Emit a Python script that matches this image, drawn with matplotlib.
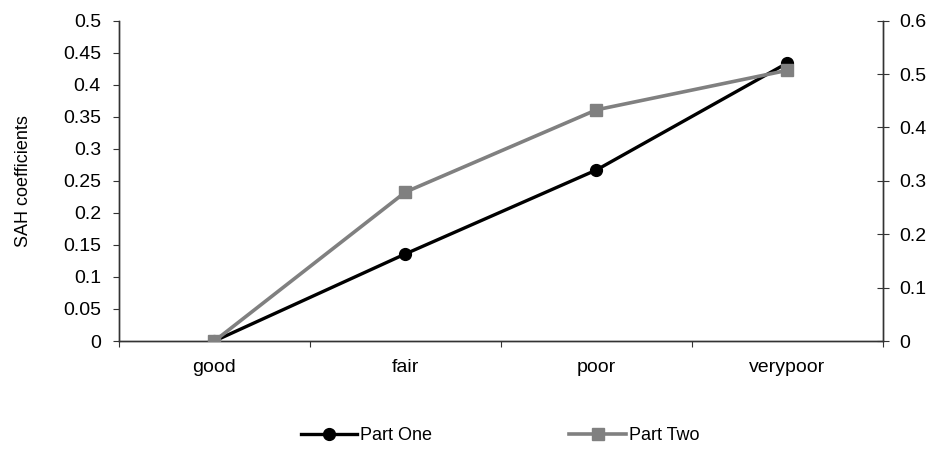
import matplotlib.pyplot as plt

plt.rcParams['font.family'] = ['Liberation Sans', 'DejaVu Sans']

# data
categories = ["good", "fair", "poor", "verypoor"]
part_one = [0.0, 0.136, 0.267, 0.434]
part_two = [0.0, 0.279, 0.433, 0.507]
left_ticks = [0, 0.05, 0.1, 0.15, 0.2, 0.25, 0.3, 0.35, 0.4, 0.45, 0.5]
right_ticks = [0, 0.1, 0.2, 0.3, 0.4, 0.5, 0.6]

fig = plt.figure(figsize=(9.31, 4.49), dpi=100)
ax = fig.add_axes([0.1278, 0.2405, 0.8206, 0.7135])
ax2 = ax.twinx()

x = list(range(len(categories)))
l1, = ax.plot(x, part_one, color="black", lw=2.4, marker="o", ms=8.5, zorder=3)
l2, = ax2.plot(x, part_two, color="#808080", lw=2.6, marker="s", ms=9, zorder=3)

ax.set_xlim(-0.5, 3.5)
ax.set_ylim(0, 0.5)
ax2.set_ylim(0, 0.6)
ax.set_yticks(left_ticks)
ax.set_yticklabels(["0" if t == 0 else ("%g" % t) for t in left_ticks])
ax2.set_yticks(right_ticks)
ax2.set_yticklabels(["0" if t == 0 else ("%g" % t) for t in right_ticks])

# category labels centred, tick marks between them
ax.set_xticks([-0.5, 0.5, 1.5, 2.5, 3.5])
ax.set_xticklabels([])
ax.set_xticks(x, minor=True)
ax.set_xticklabels(categories, minor=True)
ax.tick_params(axis="x", which="minor", length=0, pad=13, labelsize=14)
ax.tick_params(axis="x", which="major", length=4, direction="out", color="#333333")
ax.tick_params(axis="y", length=4, direction="out", labelsize=14, pad=9, color="#333333")
ax2.tick_params(axis="y", length=9, direction="inout", labelsize=14, pad=7, color="#333333")

for a in (ax, ax2):
    a.spines["top"].set_visible(False)
    for s in ("left", "right", "bottom"):
        a.spines[s].set_color("#333333")
        a.spines[s].set_linewidth(1.0)

ax.set_ylabel("SAH coefficients", fontsize=13, labelpad=22)

fig.legend([l1, l2], ["Part One", "Part Two"], loc="center", bbox_to_anchor=(0.537, 0.03),
           ncol=2, frameon=False, fontsize=13, handlelength=3.15, handletextpad=0.15,
           columnspacing=7.6)

fig.savefig("out.png", dpi=100)
